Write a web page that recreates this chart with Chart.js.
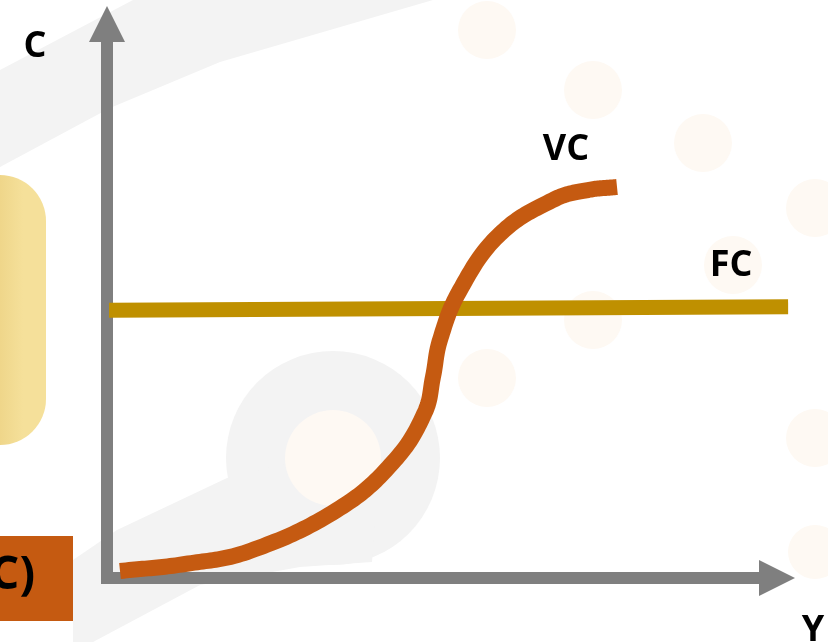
<!DOCTYPE html>
<html>
<head>
<meta charset="utf-8">
<script src="https://cdn.jsdelivr.net/npm/chart.js@4"></script>
<style>
  html,body{margin:0;padding:0;background:#ffffff;}
  #wrap{width:828px;height:642px;position:relative;}
</style>
</head>
<body>
<div id="wrap"><canvas id="c" width="828" height="642"></canvas></div>
<script>
// ---- data (output Y on x-axis, cost C on y-axis, 0..100 units) ----
const vcX = [1.89, 11.34, 20.78, 33.87, 41.86, 46.22, 47.38, 48.40, 51.31, 57.12, 65.12, 69.91, 74.13];
const vcY = [1.25, 2.51, 4.84, 12.54, 21.15, 29.75, 36.02, 42.65, 51.61, 61.65, 67.92, 69.53, 70.07];
const fcX = [0.3, 99.0];
const fcY = [48.0, 48.6];
const axisLabels = { y: "C", x: "Y" };
const curveLabels = ["VC", "FC"];
const boxLabel = "C)";

const toPts = (xs, ys) => xs.map((x, i) => ({ x: x, y: ys[i] }));

const ORANGE = "#C55A11";
const GOLD = "#BF9000";
const GREY = "#7F7F7F";
const FONT = "bold 36px 'Open Sans', Lato, sans-serif";
const TENSION = 0.4;

// smooth stroke through the points Chart.js placed on its scales
// (bezier segments are flattened into short lineTo steps for rendering)
function strokeSpline(ctx, pts, t) {
  const n = pts.length;
  const cp = pts.map((p, i) => {
    const prev = pts[Math.max(i - 1, 0)], next = pts[Math.min(i + 1, n - 1)];
    const d01 = Math.hypot(p.x - prev.x, p.y - prev.y);
    const d12 = Math.hypot(next.x - p.x, next.y - p.y);
    const sum = d01 + d12 || 1;
    const fa = t * d01 / sum, fb = t * d12 / sum;
    return {
      px: p.x - fa * (next.x - prev.x), py: p.y - fa * (next.y - prev.y),
      nx: p.x + fb * (next.x - prev.x), ny: p.y + fb * (next.y - prev.y)
    };
  });
  const STEPS = 24;
  ctx.beginPath();
  ctx.moveTo(pts[0].x, pts[0].y);
  for (let i = 1; i < n; i++) {
    const p0 = pts[i - 1], p3 = pts[i];
    const c1x = cp[i - 1].nx, c1y = cp[i - 1].ny, c2x = cp[i].px, c2y = cp[i].py;
    for (let s = 1; s <= STEPS; s++) {
      const u = s / STEPS, v = 1 - u;
      const bx = v*v*v*p0.x + 3*v*v*u*c1x + 3*v*u*u*c2x + u*u*u*p3.x;
      const by = v*v*v*p0.y + 3*v*v*u*c1y + 3*v*u*u*c2y + u*u*u*p3.y;
      ctx.lineTo(bx, by);
    }
  }
  ctx.stroke();
}

const decor = {
  id: "decor",
  beforeDraw(chart) {
    const ctx = chart.ctx;
    ctx.save();
    ctx.fillStyle = "#ffffff";
    ctx.fillRect(0, 0, chart.width, chart.height);
    // faint grey watermark band (top-left)
    ctx.fillStyle = "#F3F3F3";
    ctx.beginPath();
    ctx.moveTo(0, 70);
    ctx.lineTo(133, 0);
    ctx.lineTo(433, 0);
    ctx.lineTo(330, 30);
    ctx.lineTo(220, 62);
    ctx.lineTo(110, 108);
    ctx.lineTo(0, 167);
    ctx.closePath();
    ctx.fill();
    // faint grey watermark circle + swoosh (lower middle)
    ctx.beginPath();
    ctx.arc(333, 458, 107, 0, Math.PI * 2);
    ctx.fill();
    ctx.beginPath();
    ctx.moveTo(73, 560);
    ctx.lineTo(117, 530);
    ctx.lineTo(227, 478);
    ctx.lineTo(300, 460);
    ctx.lineTo(375, 520);
    ctx.lineTo(372, 562);
    ctx.lineTo(300, 567);
    ctx.lineTo(200, 585);
    ctx.lineTo(93, 642);
    ctx.lineTo(73, 642);
    ctx.closePath();
    ctx.fill();
    // faint beige dots
    ctx.fillStyle = "#FEF9F3";
    [[487,30,29],[593,90,29],[703,143,29],[815,208,29],[733,265,29],[593,320,29],[487,378,29],
     [815,438,29],[815,552,27],[333,458,48]].forEach(d => {
      ctx.beginPath(); ctx.arc(d[0], d[1], d[2], 0, Math.PI * 2); ctx.fill();
    });
    // yellow rounded panel (left)
    const g = ctx.createLinearGradient(0, 0, 46, 0);
    g.addColorStop(0, "#EFD68A");
    g.addColorStop(0.5, "#F5E09A");
    g.addColorStop(1, "#F5E09A");
    ctx.fillStyle = g;
    ctx.beginPath();
    ctx.roundRect(-60, 175, 106, 270, 46);
    ctx.fill();
    // orange box bottom-left
    ctx.fillStyle = ORANGE;
    ctx.fillRect(0, 536, 73, 85);
    ctx.fillStyle = "#000000";
    ctx.font = "bold 46px 'Open Sans', Lato, sans-serif";
    ctx.textAlign = "right";
    ctx.textBaseline = "middle";
    ctx.fillText(boxLabel, 35, 576);
    ctx.restore();
  },
  beforeDatasetsDraw(chart) {
    const ctx = chart.ctx;
    const xs = chart.scales.x, ys = chart.scales.y;
    const x0 = xs.getPixelForValue(0), y0 = ys.getPixelForValue(0);
    const area = chart.chartArea;
    ctx.save();
    ctx.fillStyle = GREY;
    // vertical axis
    const yTip = area.top - 14;
    ctx.fillRect(x0 - 6, yTip + 30, 12, y0 + 6 - (yTip + 30));
    ctx.beginPath();
    ctx.moveTo(x0, yTip);
    ctx.lineTo(x0 + 18, yTip + 36);
    ctx.lineTo(x0 - 18, yTip + 36);
    ctx.closePath();
    ctx.fill();
    // horizontal axis
    const xTip = area.right;
    ctx.fillRect(x0 - 6, y0 - 6, xTip - 30 - (x0 - 6), 12);
    ctx.beginPath();
    ctx.moveTo(xTip, y0);
    ctx.lineTo(xTip - 36, y0 - 18);
    ctx.lineTo(xTip - 36, y0 + 18);
    ctx.closePath();
    ctx.fill();
    ctx.restore();
  },
  afterDatasetsDraw(chart) {
    const ctx = chart.ctx;
    // VC curve: smooth stroke through the element positions computed by the chart's scales
    const meta = chart.getDatasetMeta(1);
    const pts = meta.data.map(el => ({ x: el.x, y: el.y }));
    ctx.save();
    ctx.strokeStyle = ORANGE;
    ctx.lineWidth = 16;
    ctx.lineCap = "butt";
    ctx.lineJoin = "round";
    strokeSpline(ctx, pts, TENSION);
    ctx.restore();

    ctx.save();
    ctx.fillStyle = "#000000";
    ctx.font = FONT;
    ctx.textAlign = "center";
    ctx.textBaseline = "middle";
    ctx.fillText(axisLabels.y, 35, 47);
    ctx.fillText(axisLabels.x, 813, 631);
    ctx.fillText(curveLabels[0], 566, 150);
    ctx.fillText(curveLabels[1], 731, 266);
    ctx.restore();
  }
};

new Chart(document.getElementById("c"), {
  type: "line",
  data: {
    datasets: [
      { label: "FC", data: toPts(fcX, fcY), borderColor: GOLD, borderWidth: 15,
        pointRadius: 0, borderCapStyle: "butt", tension: 0, fill: false },
      { label: "VC", data: toPts(vcX, vcY), borderColor: ORANGE, borderWidth: 0,
        pointRadius: 0, borderCapStyle: "butt", tension: TENSION, fill: false }
    ]
  },
  options: {
    responsive: false,
    animation: false,
    devicePixelRatio: 1,
    layout: { padding: { left: 107, right: 33, top: 20, bottom: 64 } },
    plugins: { legend: { display: false }, tooltip: { enabled: false } },
    scales: {
      x: { type: "linear", min: 0, max: 100, display: false },
      y: { type: "linear", min: 0, max: 100, display: false }
    }
  },
  plugins: [decor]
});
</script>
</body>
</html>
